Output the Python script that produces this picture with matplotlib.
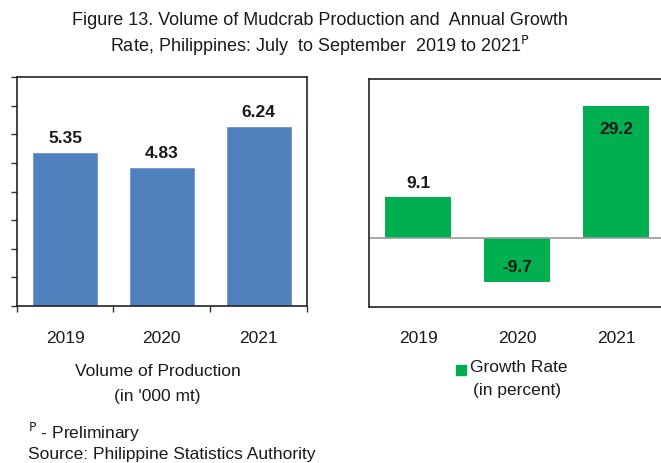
import matplotlib
matplotlib.use("Agg")
import matplotlib.pyplot as plt
from matplotlib.patches import Rectangle

# data
years = ["2019", "2020", "2021"]
volume = [5.35, 4.83, 6.24]          # '000 mt
growth = [9.1, -9.7, 29.2]           # percent

plt.rcParams['font.family'] = ['Liberation Sans Narrow', 'Liberation Sans', 'DejaVu Sans']

fig = plt.figure(figsize=(6.61, 4.63), dpi=100)

blue = "#4F81BD"
green = "#00B050"
txt = "#1a1a1a"

# title
fig.text(0.484, 0.955, "Figure 13. Volume of Mudcrab Production and  Annual Growth",
         ha="center", va="center", fontsize=13, color=txt)
fig.text(0.484, 0.900, r"Rate, Philippines: July  to September  2019 to 2021$^{\mathrm{P}}$",
         ha="center", va="center", fontsize=13, color=txt)

# left panel - volume
ax1 = fig.add_axes([0.0253, 0.339, 0.4391, 0.4946])
x = range(len(years))
ax1.bar(x, volume, width=0.66, color=blue, edgecolor="#6f97c8", linewidth=0.6)
ax1.set_xlim(-0.5, 2.5)
ax1.set_ylim(0, 8)
ax1.set_yticks(range(0, 9))
ax1.set_yticklabels([])
ax1.set_xticks([-0.5, 0.5, 1.5, 2.5])
ax1.set_xticklabels([])
ax1.tick_params(axis="both", direction="out", length=4, width=1, color="#333333")
for s in ax1.spines.values():
    s.set_color("#222222")
    s.set_linewidth(1.2)
for i, v in enumerate(volume):
    ax1.annotate(f"{v:.2f}", (i, v), xytext=(0, 5), textcoords="offset points",
                 ha="center", va="bottom", fontsize=12.5, fontweight="bold", color=txt)
for i, y in enumerate(years):
    ax1.text(i, -0.14, y, transform=ax1.get_xaxis_transform(), ha="center", va="center",
             fontsize=12.5, color=txt)
ax1.text(0.485, -0.288, "Volume of Production", transform=ax1.transAxes,
         ha="center", va="center", fontsize=12.5, color=txt)
ax1.text(0.485, -0.397, "(in '000 mt)", transform=ax1.transAxes,
         ha="center", va="center", fontsize=12.5, color=txt)

# right panel - growth rate
ax2 = fig.add_axes([0.5575, 0.3369, 0.4493, 0.4924])
ax2.bar(x, growth, width=0.66, color=green)
ax2.set_xlim(-0.5, 2.5)
ax2.set_ylim(-15.3, 35.2)
ax2.axhline(0, color="#9a9a9a", linewidth=1.2)
ax2.set_xticks([])
ax2.set_yticks([])
for s in ax2.spines.values():
    s.set_color("#222222")
    s.set_linewidth(1.2)
ax2.spines["right"].set_visible(False)
# label placement as in the original
offsets = [(0, 4, "bottom"), (0, 10, "center"), (0, -17, "center")]
for i, v in enumerate(growth):
    dx, dy, va = offsets[i]
    ax2.annotate(f"{v:.1f}", (i, v), xytext=(dx, dy), textcoords="offset points",
                 ha="center", va=va, fontsize=12.5, fontweight="bold", color=txt)
for i, y in enumerate(years):
    ax2.text(i, -0.136, y, transform=ax2.get_xaxis_transform(), ha="center", va="center",
             fontsize=12.5, color=txt)
ax2.add_patch(Rectangle((0.295, -0.298), 0.034, 0.044, transform=ax2.transAxes,
                        color=green, clip_on=False))
ax2.text(0.342, -0.267, "Growth Rate", transform=ax2.transAxes,
         ha="left", va="center", fontsize=12.5, color=txt)
ax2.text(0.5, -0.364, "(in percent)", transform=ax2.transAxes,
         ha="center", va="center", fontsize=12.5, color=txt)

# footnotes
fig.text(0.043, 0.067, r"$^{\mathrm{P}}$ - Preliminary", ha="left", va="center",
         fontsize=12.5, color=txt)
fig.text(0.043, 0.019, "Source: Philippine Statistics Authority", ha="left", va="center",
         fontsize=12.5, color=txt)

fig.savefig("out.png", dpi=100)
